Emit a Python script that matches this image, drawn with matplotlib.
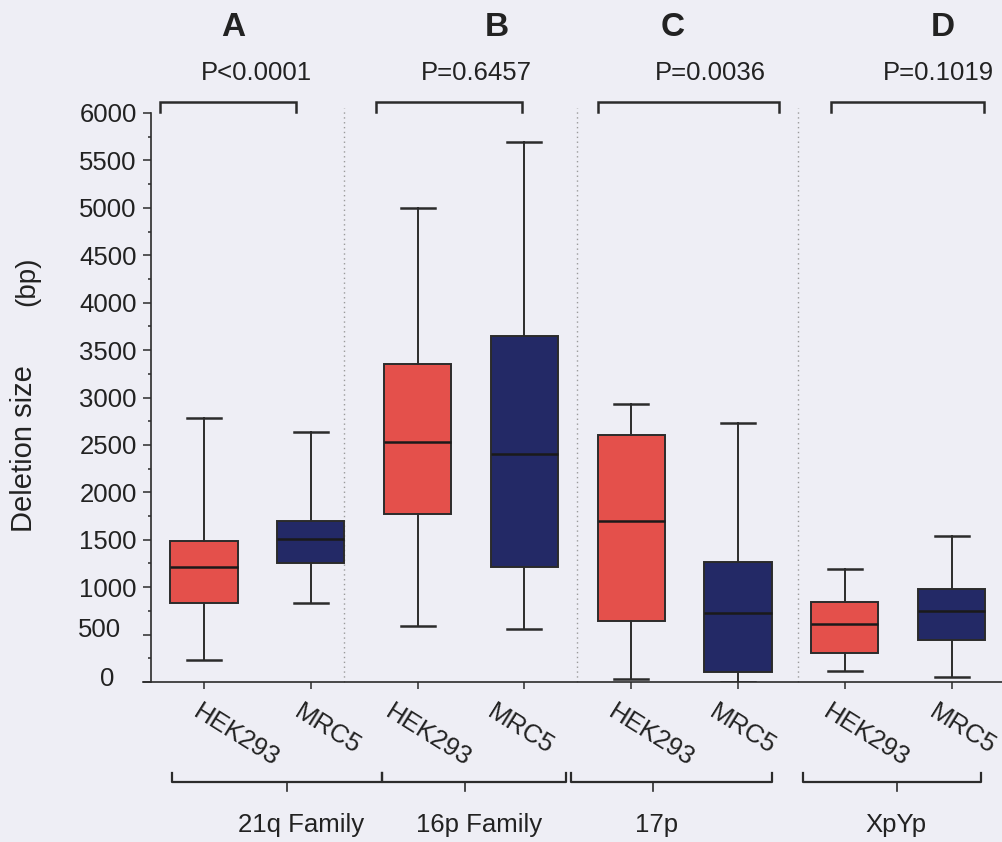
import matplotlib
matplotlib.use("Agg")
import matplotlib.pyplot as plt
from matplotlib.transforms import ScaledTranslation
from matplotlib.ticker import MultipleLocator

plt.rcParams['font.family'] = ['Liberation Sans', 'DejaVu Sans']

# ---------------- data ----------------
groups = ['21q Family', '16p Family', '17p', 'XpYp']
cell_lines = ['HEK293', 'MRC5']
panel_letters = ['A', 'B', 'C', 'D']
p_values = ['P<0.0001', 'P=0.6457', 'P=0.0036', 'P=0.1019']

# box statistics (bp), order: A-HEK293, A-MRC5, B-HEK293, B-MRC5, ...
whisker_high = [2780, 2635, 5000, 5695, 2930, 2730, 1190, 1535]
upper_quartile = [1490, 1695, 3355, 3645, 2605, 1270, 845, 985]
median = [1210, 1505, 2530, 2405, 1700, 725, 610, 750]
lower_quartile = [830, 1260, 1770, 1210, 645, 110, 310, 445]
whisker_low = [230, 830, 590, 555, 30, 0, 115, 50]

# ---------------- layout / style ----------------
BG = '#EEEEF5'
RED = '#E4504B'
NAVY = '#232966'
DARK = '#2B2B2B'
FS = 18.5

fig = plt.figure(figsize=(10.03, 8.42), dpi=100, facecolor=BG)
W, H = 1003, 842
ax = fig.add_axes([143 / W, (H - 682) / H, (W - 143) / W, 569 / H])
ax.set_facecolor('none')

n = len(groups) * len(cell_lines)
positions = list(range(n))
labels = [c for g in groups for c in cell_lines]

stats = []
for i in range(n):
    stats.append(dict(med=median[i], q1=lower_quartile[i], q3=upper_quartile[i],
                      whislo=whisker_low[i], whishi=whisker_high[i], label=labels[i]))

bp = ax.bxp(stats, positions=positions, widths=0.63, capwidths=0.32,
            patch_artist=True, showfliers=False,
            boxprops=dict(edgecolor=DARK, linewidth=1.4),
            medianprops=dict(color='#1a1a1a', linewidth=1.8),
            whiskerprops=dict(color=DARK, linewidth=1.4),
            capprops=dict(color=DARK, linewidth=1.8))
for i, patch in enumerate(bp['boxes']):
    patch.set_facecolor(RED if i % 2 == 0 else NAVY)

ax.set_xlim(-0.571, 7.481)
ax.set_ylim(0, 6000)

# spines
for s in ['top', 'right']:
    ax.spines[s].set_visible(False)
ax.spines['left'].set_position(('data', -0.496))
ax.spines['left'].set_bounds(0, 6000)
for s in ['left', 'bottom']:
    ax.spines[s].set_color(DARK)
    ax.spines[s].set_linewidth(1.2)

# y ticks
ax.yaxis.set_major_locator(MultipleLocator(500))
ax.yaxis.set_minor_locator(MultipleLocator(250))
ax.tick_params(axis='y', which='major', length=5.8, width=1.1, color=DARK,
               labelsize=FS, pad=4.5, labelcolor='#222222')
ax.tick_params(axis='y', which='minor', length=2, width=1.1, color=DARK)
fig.canvas.draw()
for lab in ax.get_yticklabels():
    t = lab.get_text()
    if t == '500':
        lab.set_transform(lab.get_transform() + ScaledTranslation(-0.16, 0.07, fig.dpi_scale_trans))
    elif t == '0':
        lab.set_transform(lab.get_transform() + ScaledTranslation(-0.22, 0.05, fig.dpi_scale_trans))

# x ticks
ax.set_xticks(positions)
ax.set_xticklabels(labels, rotation=-32, ha='left', va='top', rotation_mode='anchor',
                   fontsize=FS, color='#222222')
ax.tick_params(axis='x', which='major', length=5, width=1.1, color=DARK, pad=8)
label_shift_px = [-2, -8, -24, -28, -14, -20, -13, -14]
for lab, dx in zip(ax.get_xticklabels(), label_shift_px):
    lab.set_transform(lab.get_transform() + ScaledTranslation(dx / 100, 0, fig.dpi_scale_trans))

# dotted separators between panels
for xs in [1.311, 3.493, 5.562]:
    ax.plot([xs, xs], [0, 6056], linestyle=(0, (1, 2.5)), color='#9a9a9a',
            linewidth=1.0, clip_on=False, zorder=0)

# top brackets, P values and panel letters
top_brackets = [(-0.412, 0.861), (1.610, 2.978), (3.689, 5.384), (5.871, 7.303)]
p_x = [0.487, 2.547, 4.738, 6.873]
letter_x = [0.272, 2.743, 4.391, 6.919]
for (x0, x1), px, lx, pv, lt in zip(top_brackets, p_x, letter_x, p_values, panel_letters):
    ax.plot([x0, x0, x1, x1], [6010, 6115, 6115, 6010], color=DARK, linewidth=1.8,
            clip_on=False, solid_joinstyle='miter')
    ax.text(px, 6348, pv, ha='center', va='baseline', fontsize=FS, color='#222222',
            clip_on=False)
    ax.text(lx, 6812, lt, ha='center', va='baseline', fontsize=24, fontweight='bold',
            color='#222222', clip_on=False)

# bottom group brackets and labels
group_brackets = [(-0.300, 1.667), (1.667, 3.390), (3.436, 5.318), (5.609, 7.275)]
group_tick_x = [0.777, 2.444, 4.204, 6.489]
group_label_x = [0.908, 2.575, 4.242, 6.479]
for (x0, x1), tx, gx, g in zip(group_brackets, group_tick_x, group_label_x, groups):
    ax.plot([x0, x0, x1, x1], [-960, -1055, -1055, -960], color=DARK, linewidth=1.6,
            clip_on=False)
    ax.plot([tx, tx], [-1055, -1150], color=DARK, linewidth=1.2, clip_on=False)
    ax.text(gx, -1582, g, ha='center', va='baseline', fontsize=FS, color='#222222',
            clip_on=False)

# y-axis title
fig.text(24 / W, 1 - 449 / H, 'Deletion size', rotation=90, ha='center', va='center',
         fontsize=21, color='#222222')
fig.text(27 / W, 1 - 281 / H, '(bp)', rotation=90, ha='center', va='center',
         fontsize=20, color='#222222')

fig.savefig('out.png', dpi=100, facecolor=BG)
